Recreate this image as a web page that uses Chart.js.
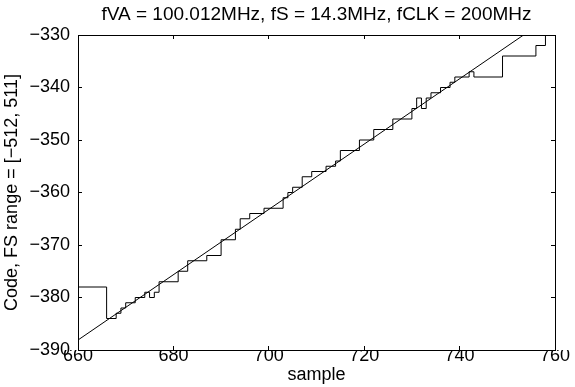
<!DOCTYPE html>
<html>
<head>
<meta charset="utf-8">
<script src="https://cdn.jsdelivr.net/npm/chart.js@4.4.1/dist/chart.umd.min.js"></script>
<style>
  html, body { margin: 0; padding: 0; background: #fff; }
</style>
</head>
<body>
<canvas id="chart" width="575" height="387"></canvas>
<script>
// Staircase output: sample where each code level starts, and the code it holds
const stepStart = [660, 666, 668, 669, 670, 672, 674, 675, 676, 677, 681, 683, 687, 690, 693, 694, 696, 699,
    703, 704, 705, 707, 709, 712, 714, 715, 719, 722, 726, 730, 731, 732, 733, 734, 736, 738, 739, 742, 743,
    749, 756, 758];
const stepCode = [-378, -384, -383, -382, -381, -380, -379, -380, -379, -377, -375, -373, -372, -369, -367, -365, -364, -363,
    -361, -360, -359, -357, -356, -355, -354, -352, -350, -348, -346, -344, -342, -344, -342, -341, -340, -339, -338, -337, -338,
    -334, -332, -330];
const lastSample = 760;

// Straight reference line
const fitSample = [660, 760];
const fitCode = [-388.1, -325.9];

const xTickValues = [660, 680, 700, 720, 740, 760];

const titleText = 'fVA = 100.012MHz, fS = 14.3MHz, fCLK = 200MHz';
const xLabel = 'sample';
const yLabel = 'Code, FS range = [\u2212512, 511]';

const FONT = 'Liberation Sans, Arial, Helvetica, sans-serif';
const FONT_SIZE = 18;

const stairData = stepStart.map((s, i) => ({ x: s, y: stepCode[i] }));
stairData.push({ x: lastSample, y: stepCode[stepCode.length - 1] });
const fitData = fitSample.map((s, i) => ({ x: s, y: fitCode[i] }));

function minusSign(v) {
    return String(v).replace('-', '\u2212');
}

const boxBorder = { display: true, color: '#000', width: 1 };
const inwardGrid = { drawOnChartArea: false, drawTicks: true, tickLength: -4, color: '#000', lineWidth: 1 };

new Chart(document.getElementById('chart'), {
    type: 'line',
    data: {
        datasets: [
            {
                data: stairData,
                stepped: true,
                borderColor: '#000',
                borderWidth: 1,
                pointRadius: 0,
                fill: false
            },
            {
                data: fitData,
                borderColor: '#000',
                borderWidth: 1,
                pointRadius: 0,
                fill: false
            }
        ]
    },
    options: {
        responsive: false,
        animation: false,
        layout: { padding: 0 },
        plugins: {
            legend: { display: false },
            tooltip: { enabled: false },
            title: {
                display: true,
                text: titleText,
                fullSize: false,
                color: '#000',
                font: { family: FONT, size: 19, weight: 'normal', lineHeight: 1.2 },
                padding: { top: 3.6, bottom: 8.6 }
            }
        },
        scales: {
            x: {
                type: 'linear',
                position: 'bottom',
                min: 660,
                max: 760,
                afterBuildTicks: s => { s.ticks = xTickValues.map(v => ({ value: v })); },
                ticks: {
                    color: '#000',
                    font: { family: FONT, size: FONT_SIZE },
                    padding: -1,
                    maxRotation: 0,
                    autoSkip: false
                },
                grid: inwardGrid,
                border: boxBorder,
                title: {
                    display: true,
                    text: xLabel,
                    color: '#000',
                    font: { family: FONT, size: FONT_SIZE },
                    padding: { top: 0, bottom: 1 }
                },
                afterFit: s => { s.height = 37; }
            },
            xTop: {
                type: 'linear',
                position: 'top',
                min: 660,
                max: 760,
                afterBuildTicks: s => { s.ticks = xTickValues.map(v => ({ value: v })); },
                ticks: { display: false },
                grid: inwardGrid,
                border: boxBorder,
                afterFit: s => { s.height = 0; }
            },
            y: {
                type: 'linear',
                position: 'left',
                min: -390,
                max: -330,
                ticks: {
                    stepSize: 10,
                    color: '#000',
                    font: { family: FONT, size: FONT_SIZE },
                    padding: 12,
                    callback: v => minusSign(v)
                },
                grid: inwardGrid,
                border: boxBorder,
                title: {
                    display: true,
                    text: yLabel,
                    color: '#000',
                    font: { family: FONT, size: FONT_SIZE },
                    padding: { top: 1, bottom: 0 }
                },
                afterFit: s => { s.width = 78; }
            },
            yRight: {
                type: 'linear',
                position: 'right',
                min: -390,
                max: -330,
                ticks: { display: false, stepSize: 10 },
                grid: inwardGrid,
                border: boxBorder,
                afterFit: s => { s.width = 20; }
            }
        }
    }
});
</script>
</body>
</html>
